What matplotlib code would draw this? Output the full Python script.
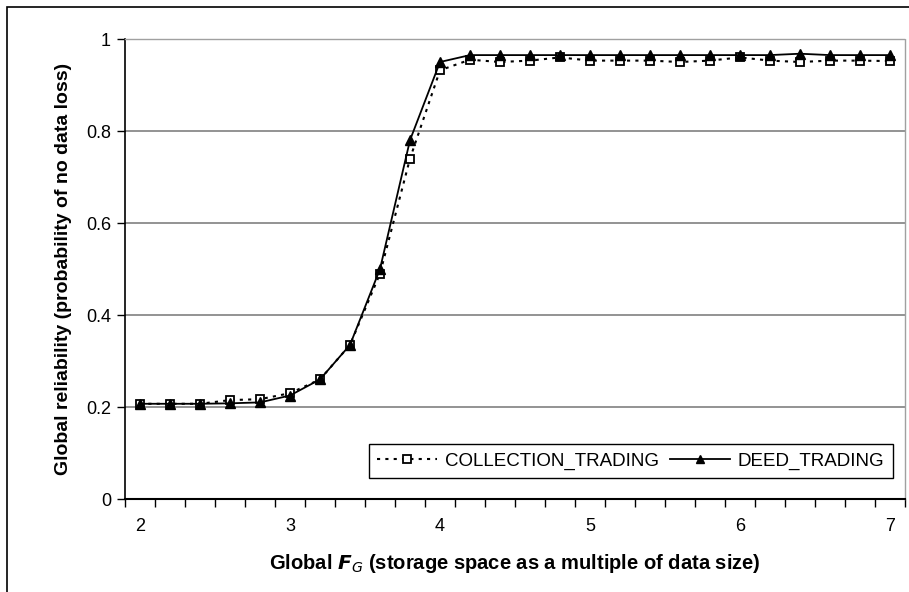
import matplotlib
matplotlib.use("Agg")
import matplotlib.pyplot as plt
from matplotlib.patches import Rectangle

x_vals = [2.0, 2.2, 2.4, 2.6, 2.8, 3.0, 3.2, 3.4, 3.6, 3.8, 4.0, 4.2, 4.4,
          4.6, 4.8, 5.0, 5.2, 5.4, 5.6, 5.8, 6.0, 6.2, 6.4, 6.6, 6.8, 7.0]
collection_trading = [0.207, 0.207, 0.207, 0.215, 0.217, 0.230, 0.260, 0.335,
                      0.490, 0.740, 0.932, 0.955, 0.950, 0.953, 0.960, 0.953,
                      0.953, 0.953, 0.950, 0.953, 0.960, 0.953, 0.950, 0.953,
                      0.953, 0.952]
deed_trading = [0.207, 0.207, 0.207, 0.208, 0.210, 0.225, 0.260, 0.335,
                0.500, 0.780, 0.950, 0.965, 0.965, 0.965, 0.965, 0.965,
                0.965, 0.965, 0.965, 0.965, 0.965, 0.965, 0.968, 0.965,
                0.965, 0.965]
x_tick_labels = ["2", "3", "4", "5", "6", "7"]
y_ticks = [0, 0.2, 0.4, 0.6, 0.8, 1.0]
y_tick_labels = ["0", "0.2", "0.4", "0.6", "0.8", "1"]

plt.rcParams['font.family'] = ['Liberation Sans', 'DejaVu Sans']

W, H = 909, 592
fig = plt.figure(figsize=(W / 100, H / 100), dpi=100)
ax = fig.add_axes([125 / W, 1 - 499 / H, 780 / W, 460 / H])

# figure border (chart area)
fig.patches.append(Rectangle((7 / W, -0.1), 1.2, 1 - 7 / H + 0.1,
                             transform=fig.transFigure, fill=False,
                             edgecolor='black', linewidth=1.2))

ax.set_xlim(1.9, 7.1)
ax.set_ylim(0, 1)

for yt in y_ticks[1:]:
    ax.axhline(yt, color='#808080', linewidth=1.2, zorder=1)

ax.plot(x_vals, collection_trading, linestyle=(0, (1.5, 2.5)), color='black',
        linewidth=1.5, marker='s', markersize=6, markerfacecolor='white',
        markeredgecolor='black', markeredgewidth=1.3, zorder=3,
        label='COLLECTION_TRADING')
ax.plot(x_vals, deed_trading, linestyle='-', color='black', linewidth=1.3,
        marker='^', markersize=7, markerfacecolor='black',
        markeredgecolor='black', zorder=4, label='DEED_TRADING')

# axes styling
for s in ['top', 'right']:
    ax.spines[s].set_linestyle((0, (1, 1)))
    ax.spines[s].set_color('#a0a0a0')
    ax.spines[s].set_linewidth(1)
ax.spines['left'].set_color('black')
ax.spines['bottom'].set_color('black')
ax.spines['left'].set_linewidth(1.2)
ax.spines['bottom'].set_linewidth(1.5)

ax.set_yticks(y_ticks)
ax.set_yticklabels(y_tick_labels, fontsize=13)
ax.tick_params(axis='y', direction='out', length=6, width=1, pad=4)

ax.set_xticks([2, 3, 4, 5, 6, 7])
ax.set_xticklabels(x_tick_labels, fontsize=13)
ax.set_xticks([1.9 + 0.2 * k for k in range(27)], minor=True)
ax.tick_params(axis='x', which='major', length=0, pad=14)
ax.tick_params(axis='x', which='minor', direction='out', length=6, width=1)

ax.set_xlabel(r'Global $\boldsymbol{F}_{G}$ (storage space as a multiple of data size)',
              fontsize=14.5, fontweight='bold', labelpad=12)
ax.set_ylabel('Global reliability (probability of no data loss)',
              fontsize=14, fontweight='bold', labelpad=10)

leg = ax.legend(loc='lower right', ncol=2, fontsize=13.5, frameon=True,
                fancybox=False, edgecolor='black', framealpha=1,
                bbox_to_anchor=(0.996, 0.025), handlelength=3.2,
                columnspacing=0.6, handletextpad=0.4, borderpad=0.45,
                markerscale=0.85)
leg.get_frame().set_linewidth(1)

fig.savefig('out.png', dpi=100)
